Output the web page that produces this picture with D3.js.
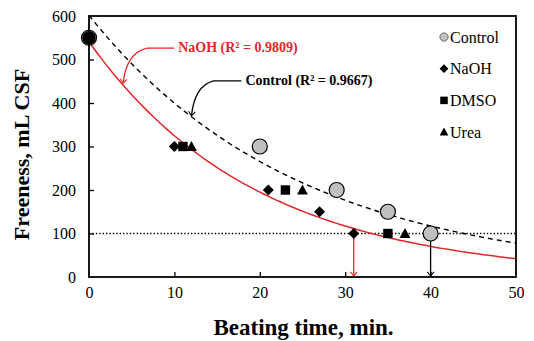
<!DOCTYPE html>
<html><head><meta charset="utf-8">
<script src="https://cdn.jsdelivr.net/npm/d3@7"></script>
<style>body{margin:0;background:#fff}svg{display:block}svg text{font-family:"Liberation Serif","Times New Roman",Times,serif !important}</style>
</head><body>
<svg id="c" width="534" height="341"></svg>
<script>
const controlX = [0, 20, 29, 35, 40];
const controlY = [550, 300, 200, 150, 100];
const naohX = [0, 10, 21, 27, 31];
const naohY = [550, 300, 200, 150, 100];
const dmsoX = [0, 11, 23, 35];
const dmsoY = [550, 300, 200, 100];
const ureaX = [0, 12, 25, 37];
const ureaY = [550, 300, 200, 100];
const xTicks = [0, 10, 20, 30, 40, 50];
const yTicks = [0, 100, 200, 300, 400, 500, 600];
const legendNames = ["Control", "NaOH", "DMSO", "Urea"];
const targetFreeness = 100;
const naohLabel = "NaOH (R² = 0.9809)";
const controlLabel = "Control (R² = 0.9667)";

const svg = d3.select("#c");
const m = {l: 89, r: 516, t: 16, b: 277};
const x = d3.scaleLinear().domain([0, 50]).range([m.l, m.r]);
const y = d3.scaleLinear().domain([0, 600]).range([m.b, m.t]);
const red = "#e3262b";

// exponential fit (Excel-style: linear regression on ln y)
function expFit(xs, ys) {
  const ly = ys.map(Math.log);
  const mx = d3.mean(xs), my = d3.mean(ly);
  let sxy = 0, sxx = 0;
  xs.forEach((v, i) => { sxy += (v - mx) * (ly[i] - my); sxx += (v - mx) ** 2; });
  const b = sxy / sxx, a = Math.exp(my - b * mx);
  return t => a * Math.exp(b * t);
}
const fC = expFit(controlX, controlY);
const fN = expFit(naohX, naohY);
const grid = d3.range(0, 50.01, 0.5);
const line = f => d3.line().x(d => x(d)).y(d => y(f(d)))(grid);

const defs = svg.append("defs");
function marker(id, col) {
  defs.append("marker").attr("id", id).attr("viewBox", "-6 -6 12 12")
    .attr("refX", 0).attr("refY", 0).attr("markerWidth", 10).attr("markerHeight", 10)
    .attr("markerUnits", "userSpaceOnUse").attr("orient", "auto")
    .append("path").attr("d", "M-5,-4 L0,0 L-5,4").attr("fill", "none")
    .attr("stroke", col).attr("stroke-width", 1.3);
}
marker("ar", red); marker("ab", "#000");

// dotted target line
svg.append("line").attr("x1", x(0)).attr("x2", x(50))
  .attr("y1", y(targetFreeness)).attr("y2", y(targetFreeness))
  .attr("stroke", "#000").attr("stroke-width", 1.4).attr("stroke-dasharray", "1.4,2");

// fit curves
svg.append("path").attr("d", line(fC)).attr("fill", "none").attr("stroke", "#000")
  .attr("stroke-width", 1.4).attr("stroke-dasharray", "5,4");
svg.append("path").attr("d", line(fN)).attr("fill", "none").attr("stroke", red)
  .attr("stroke-width", 1.5);

// vertical arrows
const xN100 = naohX[naohY.indexOf(targetFreeness)];
const xC100 = controlX[controlY.indexOf(targetFreeness)];
svg.append("line").attr("x1", x(xN100)).attr("x2", x(xN100)).attr("y1", y(targetFreeness)).attr("y2", y(0) - 1)
  .attr("stroke", red).attr("stroke-width", 1.3).attr("marker-end", "url(#ar)");
svg.append("line").attr("x1", x(xC100)).attr("x2", x(xC100)).attr("y1", y(targetFreeness)).attr("y2", y(0) - 1)
  .attr("stroke", "#000").attr("stroke-width", 1.3).attr("marker-end", "url(#ab)");

// symbols
function drawSym(g, s, k) {
  if (s === "circle") return g.append("circle").attr("r", 7.5 * k).attr("fill", "#c0c0c0").attr("stroke", k < 1 ? "#555" : "#000").attr("stroke-width", k < 1 ? 0.8 : 1.2);
  if (s === "diamond") return g.append("path").attr("d", `M${-5.5 * k},0 L0,${-5.5 * k} L${5.5 * k},0 L0,${5.5 * k}Z`).attr("fill", "#000");
  if (s === "square") return g.append("rect").attr("x", -4.7 * k).attr("y", -4.7 * k).attr("width", 9.4 * k).attr("height", 9.4 * k).attr("fill", "#000");
  return g.append("path").attr("d", `M0,${-5.6 * k} L${5.4 * k},${4.4 * k} L${-5.4 * k},${4.4 * k}Z`).attr("fill", "#000");
}
const series = [
  {xs: controlX, ys: controlY, s: "circle"},
  {xs: naohX, ys: naohY, s: "diamond"},
  {xs: dmsoX, ys: dmsoY, s: "square"},
  {xs: ureaX, ys: ureaY, s: "triangle"}
];
series.forEach(se => {
  se.xs.forEach((v, i) => {
    const g = svg.append("g").attr("transform", `translate(${x(v)},${y(se.ys[i])})`);
    drawSym(g, se.s, 1);
  });
});
// overlapping points at time zero appear solid black
svg.append("circle").attr("cx", x(0)).attr("cy", y(controlY[0])).attr("r", 6.8).attr("fill", "#000");

// axes frame
const xa = svg.append("g").attr("transform", `translate(0,${m.b})`)
  .call(d3.axisBottom(x).tickValues(xTicks).tickSize(-5).tickPadding(10).tickFormat(d3.format("d")));
const ya = svg.append("g").attr("transform", `translate(${m.l},0)`)
  .call(d3.axisLeft(y).tickValues(yTicks).tickSize(-5).tickPadding(13).tickFormat(d3.format("d")));
[xa, ya].forEach(a => {
  a.attr("font-family", null);
  a.select(".domain").remove();
  a.selectAll(".tick line").attr("stroke-width", 1.3);
  a.selectAll("text").attr("font-size", 16).attr("fill", "#000");
});
xa.selectAll(".tick").filter(d => d === 0 || d === 50).select("line").remove();
ya.selectAll(".tick").filter(d => d === 0 || d === 600).select("line").remove();
svg.append("rect").attr("x", m.l).attr("y", m.t).attr("width", m.r - m.l).attr("height", m.b - m.t)
  .attr("fill", "none").attr("stroke", "#000").attr("stroke-width", 1.8);

// annotation arrows and labels
const tN = [x(4), y(fN(4)) - 2];
svg.append("path").attr("d", `M${tN[0] + 51},${tN[1] - 35} L${tN[0] + 24},${tN[1] - 35} Q${tN[0] + 3},${tN[1] - 30} ${tN[0]},${tN[1]}`)
  .attr("fill", "none").attr("stroke", red).attr("stroke-width", 1.3).attr("marker-end", "url(#ar)");
svg.append("text").attr("x", tN[0] + 55).attr("y", tN[1] - 31).attr("font-size", 14).attr("font-weight", "bold")
  .attr("fill", red).text(naohLabel);
const tC = [x(12), y(fC(12)) - 1];
svg.append("path").attr("d", `M${tC[0] + 50},${tC[1] - 35} L${tC[0] + 22},${tC[1] - 35} Q${tC[0] + 3},${tC[1] - 30} ${tC[0]},${tC[1]}`)
  .attr("fill", "none").attr("stroke", "#000").attr("stroke-width", 1.3).attr("marker-end", "url(#ab)");
svg.append("text").attr("x", tC[0] + 54).attr("y", tC[1] - 31).attr("font-size", 14).attr("font-weight", "bold")
  .attr("fill", "#000").text(controlLabel);

// legend
const lg = svg.append("g").attr("transform", "translate(444,37)");
legendNames.forEach((n, i) => {
  const g = lg.append("g").attr("transform", `translate(0,${i * 31.7})`);
  drawSym(g, series[i].s, i === 0 ? 0.55 : 0.8);
  g.append("text").attr("x", 6).attr("y", 5.5).attr("font-size", 16).text(n);
});

// axis titles
svg.append("text").attr("x", (m.l + m.r) / 2 + 1).attr("y", 335).attr("text-anchor", "middle")
  .attr("font-size", 23).attr("font-weight", "bold").text("Beating time, min.");
svg.append("text").attr("transform", `translate(29,${(m.t + m.b) / 2 + 8}) rotate(-90)`).attr("text-anchor", "middle")
  .attr("font-size", 22).attr("font-weight", "bold").text("Freeness, mL CSF");
</script>
</body></html>
